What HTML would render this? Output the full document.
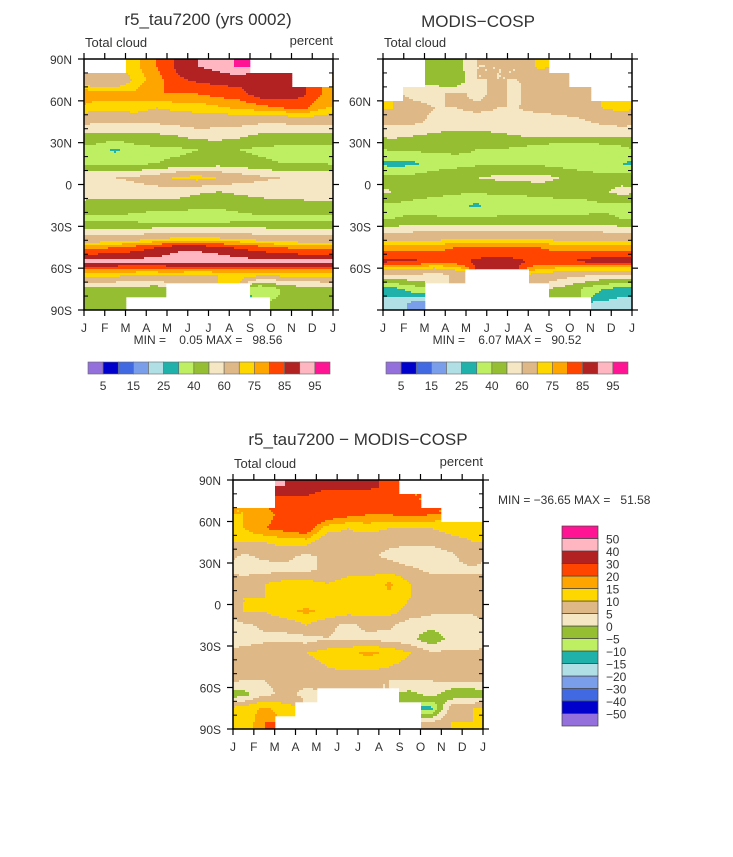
<!DOCTYPE html>
<html><head><meta charset="utf-8">
<style>
body{margin:0;background:#fff;}
svg text{font-family:"Liberation Sans",sans-serif;fill:#333;}
</style></head>
<body>
<svg id="chart" width="733" height="852" viewBox="0 0 733 852" xmlns="http://www.w3.org/2000/svg"></svg>
<script>
const months = ["J","F","M","A","M","J","J","A","S","O","N","D","J"];
const lats = [85,75,65,55,45,35,25,15,5,-5,-15,-25,-35,-45,-55,-65,-75,-85];
const N = null;
const absLevels = [5,10,15,20,25,30,40,50,60,70,75,80,85,90,95];
const absTickLabels = ["5","15","25","40","60","75","85","95"];
const diffLevels = [-50,-40,-30,-20,-15,-10,-5,0,5,10,15,20,30,40,50];
const diffTickLabels = ["50","40","30","20","15","10","5","0","\u22125","\u221210","\u221215","\u221220","\u221230","\u221240","\u221250"];
const palette = ["#9370DB","#0000CD","#4169E1","#7B9EEB","#B0E0E6","#20B2AA","#BEEE62","#96BE32","#F5E6C4","#DEB887","#FFD700","#FFA500","#FF4500","#B22222","#FFB6C1","#FF1493"];
const modelValues = [
 [N,N,74,80,86,90,92,96,N,N,N,N],
 [62,62,72,78,84,86,87,87,87,88,N,N],
 [78,78,76,80,80,80,82,83,88,88,86,80],
 [72,72,74,70,72,72,74,76,78,80,82,76],
 [62,62,62,62,64,66,64,64,62,62,64,64],
 [47,47,47,48,50,54,54,52,48,47,47,47],
 [36,28,36,38,38,40,42,40,38,37,37,37],
 [38,38,38,40,42,44,46,44,42,40,40,40],
 [60,60,62,66,72,74,70,66,62,60,58,58],
 [55,55,56,56,56,52,50,52,54,55,56,58],
 [46,46,45,44,44,42,42,44,45,46,46,46],
 [38,38,36,34,34,34,34,36,38,38,38,38],
 [56,56,58,60,62,62,62,60,58,56,56,56],
 [78,80,82,85,88,88,86,84,82,80,78,78],
 [92,92,92,92,94,95,94,92,92,92,92,92],
 [72,72,70,70,70,68,70,72,72,72,72,72],
 [48,48,45,44,N,N,N,N,30,40,45,48],
 [45,45,N,N,N,N,N,N,N,42,45,45]];
const modisValues = [
 [N,N,42,45,60,60,60,72,N,N,N,N],
 [N,N,44,40,60,60,60,62,62,N,N,N],
 [N,58,58,62,58,62,58,70,66,62,N,N],
 [70,62,60,60,62,60,60,62,64,66,70,72],
 [62,62,58,56,56,58,58,56,56,58,62,64],
 [52,50,48,46,46,48,50,52,52,52,52,52],
 [42,42,42,42,40,40,38,34,30,30,32,36],
 [26,28,34,36,38,38,38,38,36,34,32,30],
 [44,44,46,48,50,52,52,54,50,46,44,44],
 [50,46,44,42,42,42,42,44,44,44,48,54],
 [38,36,34,32,28,34,34,34,36,36,38,38],
 [40,42,42,42,42,42,42,42,42,42,42,40],
 [60,62,62,62,62,62,62,62,62,62,62,60],
 [78,78,78,80,80,80,80,80,78,78,78,78],
 [86,86,84,84,86,88,86,84,84,86,88,88],
 [60,60,55,62,N,N,N,68,65,62,60,60],
 [26,34,N,N,N,N,N,N,48,40,30,26],
 [24,18,N,N,N,N,N,N,N,N,24,24]];
const diffValues = [
 [N,N,40,35,32,32,32,28,N,N,N,N],
 [N,N,25,28,22,20,22,22,20,N,N,N],
 [15,18,22,30,25,22,20,20,22,20,N,N],
 [15,20,22,25,12,10,12,10,10,10,12,12],
 [10,10,12,12,5,8,6,6,6,6,8,10],
 [4,6,6,4,6,6,6,4,2,2,4,8],
 [3,3,4,4,6,8,8,8,6,4,4,4],
 [8,10,12,12,10,12,12,16,10,8,8,8],
 [10,10,10,12,12,10,12,14,10,8,6,6],
 [10,10,14,16,14,12,12,12,8,6,6,6],
 [4,6,6,10,6,4,6,6,2,2,2,2],
 [2,4,4,3,5,4,4,3,2,-4,2,0],
 [8,8,8,10,12,14,16,14,10,6,6,6],
 [6,6,6,8,10,12,12,10,8,6,6,6],
 [5,5,6,6,6,5,5,5,5,5,6,6],
 [-2,4,6,4,N,N,N,N,-2,2,-4,-4],
 [12,16,12,N,N,N,N,N,N,-12,8,10],
 [10,20,N,N,N,N,N,N,N,5,10,10]];
const latTickLabels = ["90N","60N","30N","0","30S","60S","90S"];

const NS="http://www.w3.org/2000/svg";
const svg=document.getElementById('chart');
function mk(tag,attrs,parent){const e=document.createElementNS(NS,tag);for(const k in attrs)e.setAttribute(k,attrs[k]);(parent||svg).appendChild(e);return e;}
function txt(s,x,y,size,anchor,parent){const t=mk('text',{x:x,y:y,'font-size':size,'text-anchor':anchor||'start'},parent);t.textContent=s;t.style.whiteSpace='pre';return t;}
function colorIndex(v,levels){let i=0;while(i<levels.length&&v>=levels[i])i++;return i;}

function panel(name,x0,y0,W,H,data,levels,opts){
  const g=mk('g',{});
  
  
  const xs=v=>x0+v/12*W;
  const ys=lat=>y0+(90-lat)/180*H;
  const nr=lats.length;
  function val(mf,lf){
    const c0=Math.floor(mf), r0=Math.max(0,Math.min(nr-2,Math.floor(lf)));
    const tc=mf-c0, tr=Math.max(0,Math.min(1,lf-r0));
    const rn=Math.max(0,Math.min(nr-1,Math.round(lf))), cn=((Math.round(mf))%12+12)%12;
    if(data[rn][cn]===null) return null;
    let s=0,w=0;
    for(const [dc,dr,ww] of [[0,0,(1-tc)*(1-tr)],[1,0,tc*(1-tr)],[0,1,(1-tc)*tr],[1,1,tc*tr]]){
      const v=data[r0+dr][((c0+dc)%12+12)%12];
      if(v!==null&&ww>0){s+=v*ww;w+=ww;}
    }
    return w>0?s/w:null;
  }
  const step=2;
  for(let py=0;py<H;py+=step){
    const lat=90-(py+step/2)/H*180;
    const lf=(85-lat)/10;
    let runStart=0,runCol=undefined;
    const flush=(end)=>{ if(runCol){const r=mk('rect',{x:x0+runStart,y:y0+py,width:end-runStart+0.3,height:Math.min(step,H-py)+0.3,fill:runCol},g);
        
        } };
    for(let px=0;px<W;px+=step){
      const mf=(px+step/2)/W*12-0.5;
      const v=val(mf,lf);
      const col=v===null?null:palette[colorIndex(v,levels)];
      if(col!==runCol){flush(px);runStart=px;runCol=col;}
    }
    flush(W);
  }
  const fr=mk('rect',{x:x0,y:y0,width:W,height:H,fill:'none',stroke:'#000','stroke-width':1.5},g);
  
  
  for(let i=0;i<=12;i++){
    const x=xs(i);
    mk('line',{x1:x,y1:y0,x2:x,y2:y0-6,stroke:'#000','stroke-width':1.2},g);
    mk('line',{x1:x,y1:y0+H,x2:x,y2:y0+H+6,stroke:'#000','stroke-width':1.2},g);
    const t=txt(months[i],x,y0+H+22,12,'middle',g);
    
    
  }
  for(let l=-90;l<=90;l+=10){
    const y=ys(l), major=l%30===0;
    if(major){
      mk('line',{x1:x0-6,y1:y,x2:x0,y2:y,stroke:'#000','stroke-width':1.2},g);
      mk('line',{x1:x0+W,y1:y,x2:x0+W+6,y2:y,stroke:'#000','stroke-width':1.2},g);
    } else {
      mk('line',{x1:x0,y1:y,x2:x0+4,y2:y,stroke:'#000','stroke-width':1},g);
      mk('line',{x1:x0+W-4,y1:y,x2:x0+W,y2:y,stroke:'#000','stroke-width':1},g);
    }
  }
  latTickLabels.forEach((s,i)=>{
    if(opts.skipEnds&&(i===0||i===6))return;
    const t=txt(s,x0-12,ys(90-30*i)+5,12,'end',g);
    
    
  });
  const tc=txt('Total cloud',x0+1,y0-12,13,'start',g);
  
  
  if(opts.percent){const p=txt('percent',x0+W,y0-14,13,'end',g);
    
    }
}
function hbar(name,x0,y0,W,H){
  const g=mk('g',{});
  
  
  const bw=W/palette.length;
  palette.forEach((c,i)=>{const r=mk('rect',{x:x0+i*bw,y:y0,width:bw,height:H,fill:c,stroke:'#666','stroke-width':0.6},g);
    
    });
  absTickLabels.forEach((s,i)=>{const t=txt(s,x0+bw*(1+2*i),y0+H+16,12,'middle',g);
    
    });
}
function vbar(name,x0,y0,W,H){
  const g=mk('g',{});
  
  
  const bh=H/palette.length;
  palette.forEach((c,i)=>{const r=mk('rect',{x:x0,y:y0+H-(i+1)*bh,width:W,height:bh,fill:c,stroke:'#444','stroke-width':0.7},g);
    
    });
  diffTickLabels.forEach((s,i)=>{const t=txt(s,x0+W+8,y0+bh*(i+1)+5,12,'start',g);
    
    });
}
panel('model-panel',84,59,249,251,modelValues,absLevels,{percent:true});
panel('modis-panel',383,59,249,251,modisValues,absLevels,{skipEnds:true});
panel('diff-panel',233,480,250,249,diffValues,diffLevels,{percent:true});
hbar('model-colorbar',88,362,242,12);
hbar('modis-colorbar',386,362,242,12);
vbar('diff-colorbar',562,526,36,200);
let t;
t=txt('r5_tau7200 (yrs 0002)',208,25,17,'middle');
t=txt('MODIS\u2212COSP',478,27,17,'middle');
t=txt('r5_tau7200 \u2212 MODIS\u2212COSP',358,445,17,'middle');
t=txt('MIN =    0.05 MAX =   98.56',208,344,12,'middle');
t=txt('MIN =    6.07 MAX =   90.52',507,344,12,'middle');
t=txt('MIN = \u221236.65 MAX =   51.58',498,504,12,'start');
</script>
</body></html>
